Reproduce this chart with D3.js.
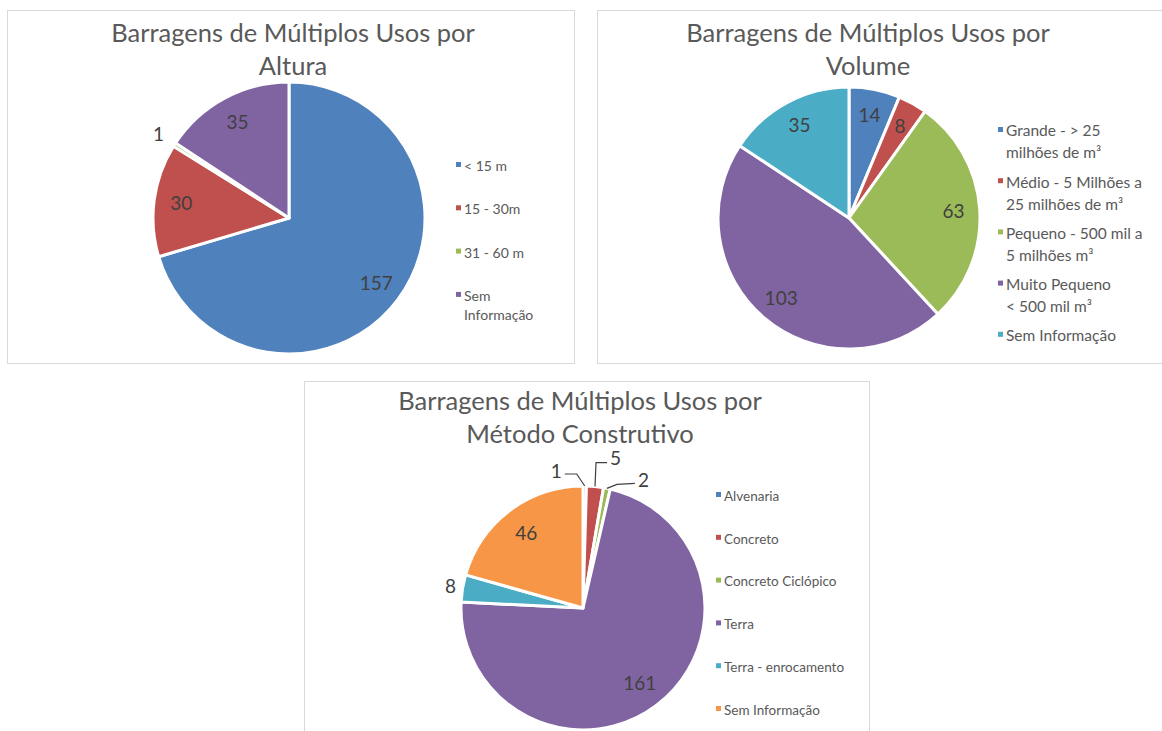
<!DOCTYPE html>
<html>
<head>
<meta charset="utf-8">
<script src="https://cdn.jsdelivr.net/npm/d3@7"></script>
<style>
  body { margin: 0; background: #fff; }
  svg { display: block; }
  text { font-family: Lato, "Open Sans", sans-serif; }
</style>
</head>
<body>
<svg id="chart" width="1162" height="731"></svg>
<script>
/* dados */
const cores = ["#4F81BD", "#C0504D", "#9BBB59", "#8064A2", "#4BACC6", "#F79646"];

const alturaTitulo = ["Barragens de Múltiplos Usos por", "Altura"];
const alturaCategorias = ["< 15 m", "15 - 30m", "31 - 60 m", "Sem\nInformação"];
const alturaValores = [157, 30, 1, 35];

const volumeTitulo = ["Barragens de Múltiplos Usos por", "Volume"];
const volumeCategorias = ["Grande - > 25\nmilhões de m³", "Médio - 5 Milhões a\n25 milhões de m³",
                          "Pequeno - 500 mil a\n5 milhões m³", "Muito Pequeno\n< 500 mil m³", "Sem Informação"];
const volumeValores = [14, 8, 63, 103, 35];

const metodoTitulo = ["Barragens de Múltiplos Usos por", "Método Construtivo"];
const metodoCategorias = ["Alvenaria", "Concreto", "Concreto Ciclópico", "Terra", "Terra - enrocamento", "Sem Informação"];
const metodoValores = [1, 5, 2, 161, 8, 46];

const svg = d3.select("#chart");

// um painel por grafico
function desenhaPizza(cfg) {
    let g = svg.append("g");

    g.append("rect")
        .attr("x", cfg.box[0] + 0.5).attr("y", cfg.box[1] + 0.5)
        .attr("width", cfg.box[2]).attr("height", cfg.box[3])
        .attr("fill", "#fff").attr("stroke", "#d9d9d9");

    g.selectAll("text.titulo")
        .data(cfg.titulo)
      .enter().append("text")
        .attr("class", "titulo")
        .attr("x", cfg.tituloX)
        .attr("y", function(d, i) { return cfg.tituloY + i * 33 })
        .attr("text-anchor", "middle")
        .attr("font-size", cfg.tituloSize)
        .attr("fill", "#595959")
        .text(function(d) { return d });

    let pie = d3.pie().sort(null).value(function(d) { return d });
    let arcs = pie(cfg.valores);
    let arc = d3.arc().innerRadius(0).outerRadius(cfg.r);

    let pg = g.append("g").attr("transform", "translate(" + cfg.cx + "," + cfg.cy + ")");

    pg.selectAll("path")
        .data(arcs)
      .enter().append("path")
        .attr("d", arc)
        .attr("fill", function(d, i) { return cores[i] })
        .attr("stroke", "#fff")
        .attr("stroke-width", 3)
        .attr("stroke-linejoin", "round");

    // rotulos de dados
    arcs.forEach(function(d, i) {
        let fora = cfg.fora[i];
        let lider = cfg.lider ? cfg.lider[i] : null;
        let x, y, anchor = "middle";
        if (lider) {
            let a = (d.startAngle + d.endAngle) / 2;
            let p0 = [Math.sin(a) * cfg.r, -Math.cos(a) * cfg.r];
            let pts = [p0].concat(lider.pts.map(function(o) { return [p0[0] + o[0], p0[1] + o[1]] }));
            pg.append("path")
                .attr("d", d3.line()(pts))
                .attr("fill", "none")
                .attr("stroke", "#404040")
                .attr("stroke-width", 1.2);
            let fim = pts[pts.length - 1];
            x = fim[0] + lider.dx;
            y = fim[1] + lider.dy;
            anchor = lider.anchor;
        } else {
            let k = fora ? fora : cfg.k;
            let c = d3.arc().innerRadius(cfg.r * k).outerRadius(cfg.r * k).centroid(d);
            x = c[0]; y = c[1];
        }
        pg.append("text")
            .attr("x", x).attr("y", y)
            .attr("dy", "0.35em")
            .attr("text-anchor", anchor)
            .attr("font-size", 19)
            .attr("fill", "#404040")
            .text(cfg.valores[i]);
    });

    // legenda
    let lg = g.selectAll("g.leg")
        .data(cfg.categorias)
      .enter().append("g")
        .attr("class", "leg")
        .attr("transform", function(d, i) { return "translate(" + cfg.legX + "," + (cfg.legY + i * cfg.legStep) + ")" });

    lg.append("rect")
        .attr("x", -8).attr("y", -4)
        .attr("width", 5).attr("height", 5)
        .attr("fill", function(d, i) { return cores[i] });

    lg.each(function(d) {
        let t = d3.select(this).append("text")
            .attr("font-size", cfg.legSize)
            .attr("fill", "#595959");
        d.split("\n").forEach(function(linha, j) {
            t.append("tspan")
                .attr("x", 0)
                .attr("y", j * cfg.legLinha)
                .attr("dy", "0.35em")
                .text(linha);
        });
    });
}

desenhaPizza({
    box: [7, 10, 567, 353],
    titulo: alturaTitulo, tituloX: 293, tituloY: 42, tituloSize: 25.5,
    valores: alturaValores, categorias: alturaCategorias,
    cx: 289, cy: 218, r: 136, k: 0.8,
    fora: [0, 0, 1.14, 0],
    legX: 464, legY: 166, legStep: 43.3, legLinha: 19, legSize: 14
});

desenhaPizza({
    box: [597, 10, 570, 353],
    titulo: volumeTitulo, tituloX: 868, tituloY: 42, tituloSize: 25.5,
    valores: volumeValores, categorias: volumeCategorias,
    cx: 849, cy: 218, r: 131, k: 0.8,
    fora: [0, 0, 0, 0, 0],
    legX: 1006, legY: 131, legStep: 51.2, legLinha: 22, legSize: 15.5
});

desenhaPizza({
    box: [304, 381, 565, 360],
    titulo: metodoTitulo, tituloX: 580, tituloY: 410, tituloSize: 25.5,
    valores: metodoValores, categorias: metodoCategorias,
    cx: 583, cy: 608, r: 122, k: 0.77,
    fora: [0, 0, 0, 0, 1.1, 0],
    lider: [
        { pts: [[-8, -12], [-20, -12]], dx: -3, dy: -3, anchor: "end" },
        { pts: [[1, -24], [12, -24]], dx: 3, dy: -4, anchor: "start" },
        { pts: [[10, -4], [28, -5]], dx: 3, dy: -3, anchor: "start" },
        null, null, null
    ],
    legX: 724, legY: 496, legStep: 42.8, legLinha: 19, legSize: 13.5
});
</script>
</body>
</html>
